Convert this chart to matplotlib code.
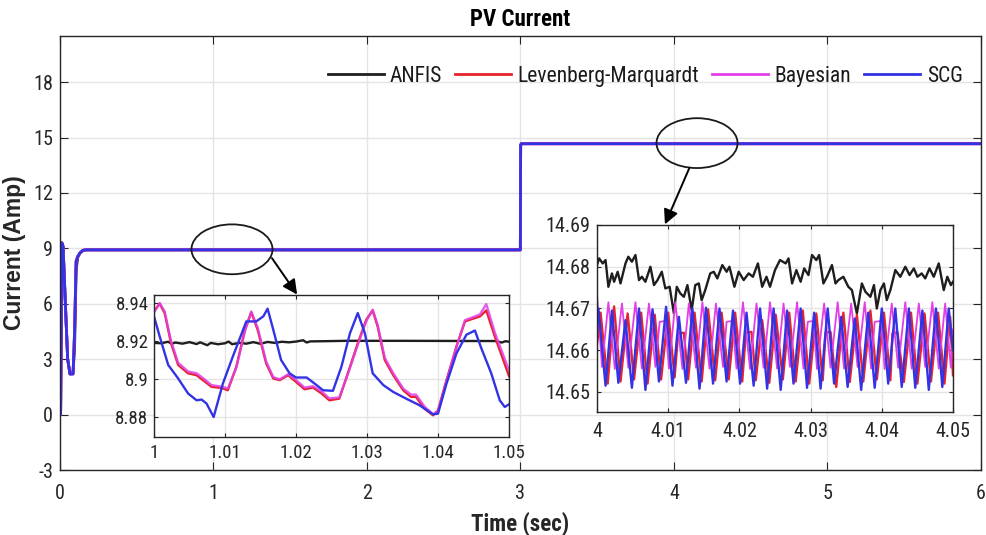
import numpy as np
import matplotlib
matplotlib.use("Agg")
import matplotlib.pyplot as plt
from matplotlib.patches import Ellipse
from matplotlib import font_manager

plt.rcParams["axes.unicode_minus"] = False

# ---------------- data ----------------
series_names = ["ANFIS", "Levenberg-Marquardt", "Bayesian", "SCG"]
series_colors = ["#1e1e1e", "#e8232b", "#e23fe6", "#3333e6"]

# main plot (time in s, current in A)
main_t = [0.000, 0.004, 0.012, 0.020, 0.035, 0.050, 0.065, 0.085, 0.095, 0.105,
          0.115, 0.130, 0.150, 0.170, 2.999, 3.001, 3.006, 6.000]
anfis_main = [0.0, 0.0, 9.30, 9.10, 6.00, 3.00, 2.20, 2.30, 3.60, 7.80,
              8.50, 8.75, 8.88, 8.92, 8.92, 14.60, 14.68, 14.68]
lm_main = [0.0, 0.0, 9.30, 9.10, 6.00, 3.00, 2.20, 2.20, 4.50, 8.30,
           8.55, 8.75, 8.90, 8.92, 8.92, 14.60, 14.665, 14.665]
bay_main = [0.0, 0.0, 9.30, 9.10, 6.00, 3.00, 2.20, 2.20, 4.50, 8.30,
            8.55, 8.75, 8.90, 8.92, 8.92, 14.60, 14.665, 14.665]
scg_main = [0.0, 0.0, 9.30, 9.10, 6.00, 3.00, 2.20, 2.20, 4.50, 8.30,
            8.55, 8.75, 8.90, 8.92, 8.92, 14.60, 14.665, 14.665]

# left zoom (1.00 - 1.05 s)
anfis_l_t = [1.0000, 1.0010, 1.0020, 1.0025, 1.0030, 1.0040, 1.0050, 1.0060, 1.0065, 1.0075,
             1.0080, 1.0090, 1.0100, 1.0105, 1.0110, 1.0120, 1.0130, 1.0140, 1.0150, 1.0160,
             1.0170, 1.0180, 1.0190, 1.0200, 1.0210, 1.0215, 1.0220, 1.0240, 1.0270, 1.0350,
             1.0450, 1.0480, 1.0490, 1.0495, 1.0500]
anfis_l_v = [8.9190, 8.9188, 8.9196, 8.9185, 8.9192, 8.9186, 8.9194, 8.9184, 8.9193, 8.9178,
             8.9190, 8.9183, 8.9188, 8.9197, 8.9183, 8.9190, 8.9186, 8.9194, 8.9185, 8.9195,
             8.9190, 8.9196, 8.9193, 8.9197, 8.9204, 8.9192, 8.9198, 8.9199, 8.9201, 8.9201,
             8.9200, 8.9200, 8.9192, 8.9199, 8.9196]
lm_l_t = [1.0000, 1.0008, 1.0015, 1.0024, 1.0034, 1.0048, 1.0060, 1.0069, 1.0081, 1.0095,
          1.0104, 1.0116, 1.0128, 1.0137, 1.0146, 1.0158, 1.0168, 1.0177, 1.0189, 1.0200,
          1.0212, 1.0224, 1.0236, 1.0247, 1.0261, 1.0273, 1.0287, 1.0299, 1.0308, 1.0315,
          1.0325, 1.0337, 1.0351, 1.0362, 1.0369, 1.0381, 1.0393, 1.0400, 1.0412, 1.0426,
          1.0438, 1.0449, 1.0459, 1.0468, 1.0480, 1.0492, 1.0500]
lm_l_v = [8.9356, 8.9396, 8.9347, 8.9188, 8.9074, 8.9030, 8.9020, 8.8994, 8.8959, 8.8953,
          8.8941, 8.9065, 8.9259, 8.9351, 8.9259, 8.9082, 8.9003, 8.8994, 8.9020, 8.8985,
          8.8946, 8.8955, 8.8924, 8.8888, 8.8897, 8.9030, 8.9188, 8.9312, 8.9361, 8.9276,
          8.9100, 8.9020, 8.8941, 8.8906, 8.8906, 8.8844, 8.8809, 8.8835, 8.8994, 8.9171,
          8.9303, 8.9317, 8.9329, 8.9361, 8.9224, 8.9100, 8.9015]
bay_l_t = lm_l_t
bay_l_v = [8.9350, 8.9400, 8.9355, 8.9200, 8.9085, 8.9040, 8.9030, 8.9005, 8.8968, 8.8960,
           8.8950, 8.9060, 8.9250, 8.9355, 8.9270, 8.9092, 8.9010, 8.8998, 8.9025, 8.8995,
           8.8955, 8.8962, 8.8935, 8.8898, 8.8903, 8.9025, 8.9180, 8.9305, 8.9364, 8.9285,
           8.9112, 8.9030, 8.8950, 8.8918, 8.8918, 8.8855, 8.8815, 8.8830, 8.8990, 8.9168,
           8.9310, 8.9325, 8.9340, 8.9394, 8.9245, 8.9125, 8.9045]
scg_l_t = [1.0000, 1.0008, 1.0020, 1.0034, 1.0048, 1.0060, 1.0067, 1.0074, 1.0084, 1.0097,
           1.0111, 1.0130, 1.0144, 1.0154, 1.0160, 1.0168, 1.0179, 1.0191, 1.0200, 1.0215,
           1.0229, 1.0238, 1.0252, 1.0264, 1.0276, 1.0287, 1.0297, 1.0308, 1.0323, 1.0337,
           1.0355, 1.0374, 1.0393, 1.0400, 1.0412, 1.0426, 1.0440, 1.0452, 1.0461, 1.0475,
           1.0487, 1.0494, 1.0500]
scg_l_v = [8.9330, 8.9224, 8.9074, 8.9003, 8.8924, 8.8888, 8.8892, 8.8871, 8.8800, 8.8976,
           8.9118, 8.9303, 8.9303, 8.9330, 8.9370, 8.9259, 8.9100, 8.9030, 8.9008, 8.9008,
           8.8968, 8.8941, 8.8938, 8.9065, 8.9241, 8.9347, 8.9241, 8.9030, 8.8968, 8.8932,
           8.8897, 8.8862, 8.8814, 8.8818, 8.8976, 8.9135, 8.9233, 8.9255, 8.9162, 8.9030,
           8.8888, 8.8853, 8.8867]

# right zoom (4.00 - 4.05 s), times in ms after 4 s
anfis_r_ms = [0.0, 0.3, 0.8, 1.2, 1.6, 2.1, 2.4, 2.9, 3.3, 4.0,
              4.4, 4.9, 5.4, 5.9, 6.3, 6.8, 7.5, 8.0, 8.5, 9.1,
              9.6, 10.2, 10.8, 11.2, 11.7, 12.2, 12.7, 13.3, 13.8, 14.3,
              14.7, 15.2, 15.9, 16.4, 16.9, 17.6, 18.2, 18.6, 19.3, 19.9,
              20.6, 21.3, 21.9, 22.6, 23.2, 23.8, 24.3, 25.0, 25.7, 26.5,
              26.9, 27.4, 28.0, 28.6, 29.1, 29.7, 30.2, 30.8, 31.2, 31.8,
              32.3, 33.0, 33.5, 33.9, 34.6, 35.3, 35.8, 36.5, 37.2, 37.7,
              38.4, 38.9, 39.3, 39.8, 40.3, 40.7, 41.2, 41.9, 42.6, 43.3,
              43.9, 44.5, 45.0, 45.6, 46.1, 46.7, 47.3, 48.0, 48.7, 49.2,
              49.7, 50.0]
anfis_r_v = [14.6804, 14.6820, 14.6808, 14.6816, 14.6752, 14.6784, 14.6764, 14.6788, 14.6760, 14.6808,
             14.6824, 14.6812, 14.6828, 14.6768, 14.6776, 14.6764, 14.6800, 14.6756, 14.6768, 14.6788,
             14.6748, 14.6752, 14.6688, 14.6752, 14.6736, 14.6728, 14.6756, 14.6696, 14.6756, 14.6760,
             14.6720, 14.6744, 14.6784, 14.6788, 14.6772, 14.6804, 14.6788, 14.6800, 14.6752, 14.6788,
             14.6768, 14.6784, 14.6776, 14.6808, 14.6752, 14.6776, 14.6752, 14.6792, 14.6816, 14.6808,
             14.6820, 14.6760, 14.6792, 14.6764, 14.6796, 14.6780, 14.6828, 14.6816, 14.6828, 14.6760,
             14.6776, 14.6804, 14.6760, 14.6768, 14.6776, 14.6752, 14.6744, 14.6688, 14.6760, 14.6740,
             14.6728, 14.6756, 14.6700, 14.6744, 14.6760, 14.6720, 14.6744, 14.6792, 14.6776, 14.6800,
             14.6780, 14.6796, 14.6776, 14.6784, 14.6772, 14.6796, 14.6776, 14.6808, 14.6744, 14.6776,
             14.6756, 14.6764]
lm_r_ms = [0.0, 0.5, 1.5, 2.4, 3.3, 4.3, 5.2, 6.2, 7.1, 8.1,
           9.0, 10.0, 10.9, 11.4, 12.2, 12.8, 13.7, 14.7, 15.6, 16.6,
           17.5, 18.5, 19.4, 20.4, 20.9, 21.7, 22.3, 23.2, 24.2, 25.1,
           26.1, 27.0, 27.9, 28.9, 29.8, 30.8, 31.7, 32.1, 32.8, 33.6,
           34.6, 35.5, 36.5, 37.4, 38.4, 39.3, 40.3, 41.2, 41.5, 42.2,
           43.1, 44.1, 45.0, 46.0, 46.9, 47.9, 48.8, 49.6, 50.0]
lm_r_v = [14.6615, 14.6690, 14.6520, 14.6705, 14.6525, 14.6688, 14.6530, 14.6690, 14.6520, 14.6685,
          14.6530, 14.6690, 14.6535, 14.6640, 14.6642, 14.6530, 14.6690, 14.6525, 14.6698, 14.6528,
          14.6690, 14.6530, 14.6690, 14.6525, 14.6642, 14.6644, 14.6528, 14.6672, 14.6522, 14.6685,
          14.6530, 14.6690, 14.6525, 14.6695, 14.6520, 14.6688, 14.6528, 14.6642, 14.6644, 14.6512,
          14.6690, 14.6524, 14.6685, 14.6525, 14.6695, 14.6530, 14.6690, 14.6528, 14.6640, 14.6643,
          14.6524, 14.6690, 14.6520, 14.6688, 14.6525, 14.6690, 14.6520, 14.6680, 14.6540]
bay_r_ms = [0.0, 0.7, 1.6, 2.5, 3.5, 4.4, 5.4, 6.3, 7.3, 8.2,
            8.8, 9.6, 10.1, 11.0, 12.0, 12.9, 13.9, 14.8, 15.8, 16.7,
            17.7, 18.2, 19.0, 19.6, 20.5, 21.5, 22.4, 23.4, 24.3, 25.3,
            26.2, 27.1, 28.1, 29.0, 29.6, 30.4, 30.9, 31.9, 32.8, 33.8,
            34.7, 35.7, 36.6, 37.6, 38.5, 39.0, 39.9, 40.4, 41.4, 42.3,
            43.3, 44.2, 45.2, 46.1, 47.1, 48.0, 48.9, 49.7, 50.0]
bay_r_v = [14.6735, 14.6560, 14.6715, 14.6555, 14.6712, 14.6558, 14.6715, 14.6556, 14.6712, 14.6560,
           14.6668, 14.6670, 14.6556, 14.6715, 14.6555, 14.6712, 14.6558, 14.6715, 14.6556, 14.6712,
           14.6560, 14.6668, 14.6670, 14.6556, 14.6715, 14.6555, 14.6712, 14.6558, 14.6715, 14.6556,
           14.6712, 14.6560, 14.6715, 14.6556, 14.6668, 14.6670, 14.6555, 14.6712, 14.6558, 14.6715,
           14.6556, 14.6712, 14.6560, 14.6715, 14.6556, 14.6668, 14.6670, 14.6555, 14.6712, 14.6558,
           14.6715, 14.6556, 14.6712, 14.6560, 14.6715, 14.6556, 14.6712, 14.6558, 14.6650]
scg_r_ms = [0.0, 0.2, 1.2, 2.1, 3.0, 4.0, 4.9, 5.9, 6.8, 7.8,
            8.7, 9.7, 10.6, 11.5, 12.5, 13.4, 14.4, 15.3, 16.3, 17.2,
            18.2, 19.1, 20.1, 21.0, 22.0, 22.9, 23.9, 24.8, 25.8, 26.7,
            27.6, 28.6, 29.5, 30.5, 31.4, 32.4, 33.3, 34.3, 35.2, 36.2,
            37.1, 38.1, 39.0, 40.0, 40.9, 41.9, 42.8, 43.8, 44.7, 45.7,
            46.6, 47.6, 48.5, 49.4, 50.0]
scg_r_v = [14.6650, 14.6700, 14.6515, 14.6695, 14.6522, 14.6672, 14.6510, 14.6700, 14.6505, 14.6698,
           14.6525, 14.6704, 14.6515, 14.6680, 14.6522, 14.6700, 14.6508, 14.6702, 14.6520, 14.6700,
           14.6525, 14.6695, 14.6520, 14.6690, 14.6515, 14.6700, 14.6508, 14.6700, 14.6505, 14.6695,
           14.6520, 14.6700, 14.6510, 14.6690, 14.6508, 14.6700, 14.6520, 14.6680, 14.6512, 14.6676,
           14.6505, 14.6690, 14.6510, 14.6700, 14.6520, 14.6700, 14.6512, 14.6700, 14.6510, 14.6695,
           14.6505, 14.6700, 14.6512, 14.6700, 14.6600]

main_xticks = [0, 1, 2, 3, 4, 5, 6]
main_yticks = [-3, 0, 3, 6, 9, 12, 15, 18]
left_xticks = [1.00, 1.01, 1.02, 1.03, 1.04, 1.05]
left_xlabels = ["1", "1.01", "1.02", "1.03", "1.04", "1.05"]
left_yticks = [8.88, 8.90, 8.92, 8.94]
left_ylabels = ["8.88", "8.9", "8.92", "8.94"]
right_xticks = [4.00, 4.01, 4.02, 4.03, 4.04, 4.05]
right_xlabels = ["4", "4.01", "4.02", "4.03", "4.04", "4.05"]
right_yticks = [14.65, 14.66, 14.67, 14.68, 14.69]
right_ylabels = ["14.65", "14.66", "14.67", "14.68", "14.69"]

# ---------------- fonts ----------------
names = {f.name for f in font_manager.fontManager.ttflist}
NF, k = "Liberation Sans", 0.9
for cand in ["Liberation Sans Narrow", "Arial Narrow", "Roboto Condensed"]:
    if cand in names:
        NF, k = cand, 1.0
        break
REG = "Liberation Sans"
TXT = "#262626"
GRID = "#e4e4e4"

fig = plt.figure(figsize=(9.87, 5.35), dpi=100)
W, H = 987, 535


def axes_px(x0, y0, x1, y1):
    return fig.add_axes([x0 / W, 1 - y1 / H, (x1 - x0) / W, (y1 - y0) / H])


def style(ax, size, pad_x, pad_y, tl):
    ax.tick_params(direction="in", top=True, right=True, length=tl, width=0.8,
                   color=TXT, labelcolor=TXT, labelsize=size * k)
    ax.tick_params(axis="x", pad=pad_x)
    ax.tick_params(axis="y", pad=pad_y)
    for lab in ax.get_xticklabels() + ax.get_yticklabels():
        lab.set_family(NF)
    for s in ax.spines.values():
        s.set_color(TXT)
        s.set_linewidth(1.0)
    ax.grid(True, color=GRID, lw=1.0)
    ax.set_axisbelow(True)


# ---------------- main axes ----------------
ax = axes_px(60, 36, 981, 470)
series_main = [anfis_main, lm_main, bay_main, scg_main]
for vals, name, col in zip(series_main, series_names, series_colors):
    ax.plot(main_t, vals, color=col, lw=2.0, label=name)
ax.set_xlim(0, 6)
ax.set_ylim(-3, 20.5)
ax.set_xticks(main_xticks)
ax.set_yticks(main_yticks)
style(ax, 14.5, 10, 5, 6)
ax.set_title("PV Current", fontfamily=NF, fontweight="bold", fontsize=16.5 * k,
             color="black", pad=7)
ax.set_xlabel("Time (sec)", fontfamily=NF, fontweight="bold", fontsize=16.5 * k,
              color=TXT, labelpad=6)
ax.set_ylabel("Current (Amp)", fontfamily=REG, fontweight="bold", fontsize=16.5,
              color=TXT, labelpad=5)
leg = ax.legend(ncol=4, loc="center right", bbox_to_anchor=(1.001, 0.907),
                frameon=False, prop={"family": NF, "size": 15.5 * k},
                handlelength=2.6, handletextpad=0.3, columnspacing=0.6)
for t in leg.get_texts():
    t.set_color("#1a1a1a")

# ellipses marking zoom regions
ax.add_patch(Ellipse((1.1205, 8.95), 0.528, 2.70, fill=False, ec="#1a1a1a", lw=1.3, zorder=5))
ax.add_patch(Ellipse((4.150, 14.70), 0.528, 2.70, fill=False, ec="#1a1a1a", lw=1.3, zorder=5))

# ---------------- left inset ----------------
axl = axes_px(154, 295, 509, 437)
axl.plot(anfis_l_t, anfis_l_v, color=series_colors[0], lw=1.7)
axl.plot(lm_l_t, lm_l_v, color=series_colors[1], lw=1.7)
axl.plot(bay_l_t, bay_l_v, color=series_colors[2], lw=1.7, alpha=0.85)
axl.plot(scg_l_t, scg_l_v, color=series_colors[3], lw=1.7)
axl.set_xlim(1.0, 1.05)
axl.set_ylim(8.8695, 8.9442)
axl.set_xticks(left_xticks)
axl.set_xticklabels(left_xlabels)
axl.set_yticks(left_yticks)
axl.set_yticklabels(left_ylabels)
style(axl, 13.5, 5, 4, 3)

# ---------------- right inset ----------------
axr = axes_px(597, 225, 953, 412)
axr.plot(4 + np.array(anfis_r_ms) / 1000, anfis_r_v, color=series_colors[0], lw=1.7)
axr.plot(4 + np.array(lm_r_ms) / 1000, lm_r_v, color=series_colors[1], lw=1.7)
axr.plot(4 + np.array(bay_r_ms) / 1000, bay_r_v, color=series_colors[2], lw=1.3)
axr.plot(4 + np.array(scg_r_ms) / 1000, scg_r_v, color=series_colors[3], lw=1.7)
axr.set_xlim(4.0, 4.05)
axr.set_ylim(14.6452, 14.69)
axr.set_xticks(right_xticks)
axr.set_xticklabels(right_xlabels)
axr.set_yticks(right_yticks)
axr.set_yticklabels(right_ylabels)
style(axr, 14.5, 7, 5, 3)

# arrows from ellipses to insets
for (xs, ys), (xe, ye) in [((1.381, 8.47), (1.545, 6.50)), ((4.100, 13.35), (3.941, 10.30))]:
    axr.annotate("", xy=(xe, ye), xycoords=ax.transData, xytext=(xs, ys),
                 textcoords=ax.transData, annotation_clip=False,
                 arrowprops=dict(arrowstyle="-|>", color="black", lw=1.4,
                                 mutation_scale=22, shrinkA=0, shrinkB=0))

fig.savefig("out.png", dpi=100)
